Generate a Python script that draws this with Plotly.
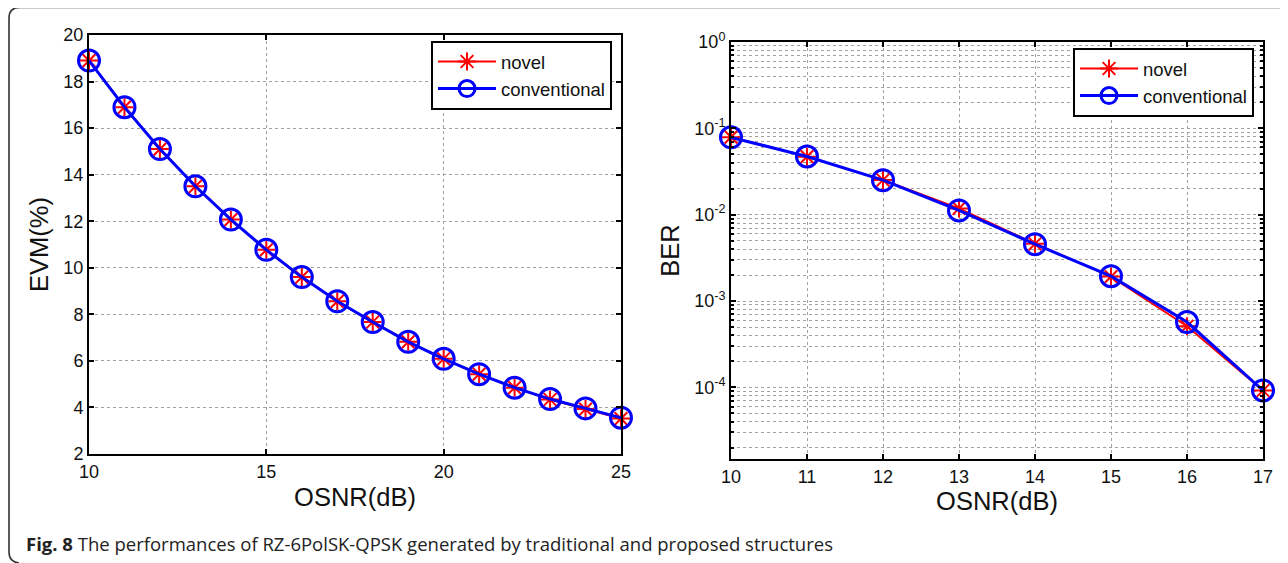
import plotly.graph_objects as go

# Page offset: the browser body keeps its default 8px margin
OFF = 8
W, H = 1280, 555

# ---------------- data ----------------
osnr_evm = [10, 11, 12, 13, 14, 15, 16, 17, 18, 19, 20, 21, 22, 23, 24, 25]
evm_novel = [18.9, 16.9, 15.1, 13.5, 12.07, 10.77, 9.6, 8.56, 7.67, 6.82, 6.09, 5.43, 4.85, 4.34, 3.93, 3.52]
evm_conv = [18.9, 16.9, 15.1, 13.5, 12.07, 10.77, 9.6, 8.56, 7.67, 6.82, 6.09, 5.43, 4.85, 4.36, 3.96, 3.56]

osnr_ber = [10, 11, 12, 13, 14, 15, 16, 17]
ber_novel = [0.079, 0.047, 0.0252, 0.0118, 0.0046, 0.00192, 0.00051, 0.000092]
ber_conv = [0.0786, 0.0472, 0.0251, 0.0112, 0.00455, 0.00194, 0.00057, 0.000092]

evm_ticks = [2, 4, 6, 8, 10, 12, 14, 16, 18, 20]
evm_xticks = [10, 15, 20, 25]
ber_xticks = [10, 11, 12, 13, 14, 15, 16, 17]
ber_tickvals = [1, 0.1, 0.01, 0.001, 0.0001]
ber_ticktext = ["10<sup>0</sup>", "10<sup>-1</sup>", "10<sup>-2</sup>", "10<sup>-3</sup>", "10<sup>-4</sup>"]

caption = "<b>Fig. 8</b> The performances of RZ-6PolSK-QPSK generated by traditional and proposed structures"

# ---------------- helpers (page pixel -> paper fraction) ----------------
def fx(p):
    return (p - OFF) / W

def fy(p):
    return 1 - (p - OFF) / H

FONT = "Liberation Sans, Arial, sans-serif"
RED = "#ff0000"
BLUE = "#0000ff"

fig = go.Figure()

def add_pair(xv, y1, y2, xa, ya, leg):
    fig.add_trace(go.Scatter(
        x=xv, y=y1, name="novel", mode="lines+markers",
        line=dict(color=RED, width=2),
        marker=dict(symbol="asterisk-open", size=15, line=dict(color=RED, width=2)),
        xaxis=xa, yaxis=ya, legend=leg, cliponaxis=False))
    fig.add_trace(go.Scatter(
        x=xv, y=y2, name="conventional", mode="lines+markers",
        line=dict(color=BLUE, width=3),
        marker=dict(symbol="circle-open", size=21, line=dict(color=BLUE, width=3)),
        xaxis=xa, yaxis=ya, legend=leg, cliponaxis=False))

add_pair(osnr_evm, evm_novel, evm_conv, "x", "y", "legend")
add_pair(osnr_ber, ber_novel, ber_conv, "x2", "y2", "legend2")

axis_common = dict(
    automargin=False,
    showline=True, linecolor="black", linewidth=2, mirror="allticks",
    ticks="inside", ticklen=5, tickwidth=1.5, tickcolor="black",
    showgrid=True, gridcolor="#a0a0a0", gridwidth=1, griddash="dot",
    zeroline=False, tickfont=dict(family=FONT, size=18, color="#111"),
    title_font=dict(family=FONT, size=25.5, color="#111"),
)

legend_common = dict(
    xanchor="left", yanchor="top",
    bgcolor="white", bordercolor="black", borderwidth=2,
    font=dict(family=FONT, size=18.5, color="#111"), itemwidth=58,
    tracegroupgap=0,
)

fig.update_layout(
    width=W, height=H,
    margin=dict(l=0, r=0, t=0, b=0, autoexpand=False),
    paper_bgcolor="white", plot_bgcolor="white",
    showlegend=True,
    xaxis=dict(domain=[fx(89), fx(621)], anchor="y", range=[10, 25],
               tickvals=evm_xticks, title=dict(text="OSNR(dB)", standoff=8), **axis_common),
    yaxis=dict(domain=[fy(454), fy(35)], anchor="x", range=[2, 20],
               tickvals=evm_ticks, title=dict(text="EVM(%)", standoff=7), **axis_common),
    xaxis2=dict(domain=[fx(731), fx(1263)], anchor="y2", range=[10, 17],
                tickvals=ber_xticks, title=dict(text="OSNR(dB)", standoff=5), **axis_common),
    yaxis2=dict(domain=[fy(459), fy(42)], anchor="x2", type="log", range=[-4.83, 0],
                tickvals=ber_tickvals, ticktext=ber_ticktext,
                title=dict(text="BER", standoff=7),
                minor=dict(dtick="D1", showgrid=True, gridcolor="#a0a0a0", griddash="dot",
                           ticks="inside", ticklen=3, tickcolor="black"),
                **axis_common),
    legend=dict(x=fx(431), y=fy(41), **legend_common),
    legend2=dict(x=fx(1073), y=fy(48), **legend_common),
    annotations=[dict(
        x=fx(24), y=fy(543), xref="paper", yref="paper", xanchor="left", yanchor="middle",
        text=caption, showarrow=False,
        font=dict(family="Open Sans, Noto Sans, sans-serif", size=18.5, color="#222"))],
    shapes=[dict(
        type="path", xref="paper", yref="paper",
        path=(f"M {fx(1288)},{fy(7.5)} L {fx(20)},{fy(7.5)} "
              f"Q {fx(9)},{fy(7.5)} {fx(9)},{fy(18)} L {fx(9)},{fy(552)} "
              f"Q {fx(9)},{fy(562)} {fx(19)},{fy(563)}"),
        line=dict(color="#333", width=1.6))],
)

fig.write_html("out.html", config={"displayModeBar": False})
